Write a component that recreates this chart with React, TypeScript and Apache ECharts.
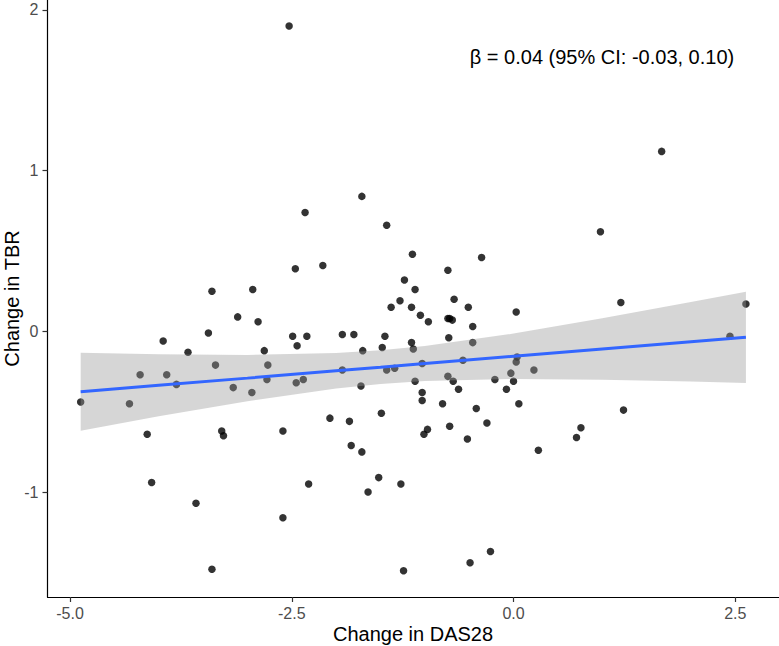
import React, { useEffect, useRef } from "react";
import * as echarts from "echarts";

// Observed data: change in DAS28 (x) vs change in TBR (y)
const dasChange = [
  -2.53, -1.71, -2.35, 1.67,
  -3.40, -2.94, -3.11, -2.88, -3.95, -3.44, -3.67, -2.81, -3.36, -2.77, -4.21, -3.91, -3.80, -3.16, -2.95, -2.78,
  -4.88, -4.33, -4.13, -3.29, -3.27, -4.08, -3.58, -3.40,
  -2.60, -2.60, -2.31, -2.07, -1.85, -1.49, -1.83, -1.71, -1.52, -1.64, -1.27, -1.24, -1.72, -1.03, -1.03, -0.80,
  -1.01, -0.97, -0.72, -0.52, -0.42, -0.30, -0.62, -0.68, -0.08, 0.06, -0.49, -0.26, -1.11, 0.00,
  0.28, 0.71, 0.76, 1.24,
  0.98, 1.21, 0.03, 2.62, 2.44, 0.04, 0.03, -0.03, 0.23,
  -1.43, -1.14, -0.36, -2.46, -2.15, -0.74, -1.23, -1.11, -1.28, -0.67, -1.38, -1.15, -0.51, -1.05, -0.96, -0.74,
  -0.72, -0.69, -0.46, -2.49, -2.33, -2.44, -1.93, -1.80, -1.45, -1.70, -1.48, -1.15, -1.13, -0.73, -0.46, -2.45,
  -2.37, -1.93, -1.43, -1.34, -1.03, -0.74, -0.57, -0.21,
];
const tbrChange = [
  1.90, 0.84, 0.74, 1.12,
  0.25, 0.26, 0.09, 0.06, -0.06, -0.01, -0.13, -0.12, -0.21, -0.21, -0.27, -0.27, -0.33, -0.35, -0.38, -0.30,
  -0.44, -0.45, -0.64, -0.62, -0.65, -0.94, -1.07, -1.48,
  -0.62, -1.16, -0.95, -0.54, -0.56, -0.51, -0.71, -0.75, -0.91, -1.00, -0.95, -1.49, -0.34, -0.38, -0.43, -0.45,
  -0.64, -0.61, -0.59, -0.67, -0.48, -0.57, -0.36, -0.31, -0.36, -0.45, -1.44, -1.37, -0.31, -0.31,
  -0.74, -0.66, -0.60, -0.49,
  0.62, 0.18, 0.12, 0.17, -0.03, -0.16, -0.19, -0.26, -0.24,
  0.66, 0.48, 0.46, 0.39, 0.41, 0.38, 0.32, 0.26, 0.19, 0.20, 0.15, 0.15, 0.15, 0.10, 0.06, 0.08,
  0.08, 0.07, 0.03, -0.03, -0.03, -0.09, -0.02, -0.02, -0.03, -0.12, -0.10, -0.07, -0.11, -0.04, -0.07, -0.32,
  -0.30, -0.24, -0.24, -0.23, -0.20, -0.28, -0.18, -0.30,
];

// Fitted line and 95% confidence band
const fitX = [-4.88, -4, -3, -2, -1.5, -1, 0, 1, 2, 2.62];
const fitY = [-0.376, -0.336, -0.291, -0.245, -0.223, -0.2, -0.155, -0.11, -0.065, -0.037];
const bandLower = [-0.619, -0.529, -0.435, -0.355, -0.328, -0.309, -0.296, -0.301, -0.312, -0.321];
const bandUpper = [-0.133, -0.143, -0.147, -0.135, -0.118, -0.091, -0.014, 0.081, 0.182, 0.247];

const xTicks = [-5, -2.5, 0, 2.5];
const yTicks = [-1, 0, 1, 2];

const annotationText = "β = 0.04 (95% CI: -0.03, 0.10)";
const xTitle = "Change in DAS28";
const yTitle = "Change in TBR";

const FONT = "'Liberation Sans', Arial, sans-serif";

export default function App() {
  const ref = useRef<HTMLDivElement>(null);

  useEffect(() => {
    document.body.style.margin = "0";
    if (!ref.current) return;
    const chart = echarts.init(ref.current, undefined, { renderer: "svg" });

    const points = dasChange.map((x, i) => [x, tbrChange[i]]);
    const fitLine = fitX.map((x, i) => [x, fitY[i]]);

    chart.setOption({
      animation: false,
      backgroundColor: "#ffffff",
      grid: { left: 47.5, right: 0, top: 0, bottom: 49, containLabel: false },
      xAxis: {
        type: "value",
        min: -5.254,
        max: 2.993,
        axisLine: { show: true, onZero: false, lineStyle: { color: "#000000", width: 1.2 } },
        axisTick: { show: true, customValues: xTicks, length: 5, lineStyle: { color: "#333333", width: 1.2 } },
        axisLabel: {
          customValues: xTicks,
          formatter: (v: number) => v.toFixed(1),
          color: "#4d4d4d",
          fontSize: 16,
          fontFamily: FONT,
          margin: 8,
        },
        splitLine: { show: false },
      },
      yAxis: {
        type: "value",
        min: -1.653,
        max: 2.062,
        axisLine: { show: true, onZero: false, lineStyle: { color: "#000000", width: 1.2 } },
        axisTick: { show: true, customValues: yTicks, length: 5, lineStyle: { color: "#333333", width: 1.2 } },
        axisLabel: {
          customValues: yTicks,
          formatter: (v: number) => String(v),
          color: "#4d4d4d",
          fontSize: 16,
          fontFamily: FONT,
          margin: 9,
        },
        splitLine: { show: false },
      },
      series: [
        {
          type: "scatter",
          data: points,
          symbol: "circle",
          symbolSize: 7.5,
          itemStyle: { color: "#000000", opacity: 0.8 },
          z: 2,
        },
        {
          type: "custom",
          data: [[0, 0]],
          z: 3,
          silent: true,
          renderItem: (params: any, api: any) => {
            const upper = fitX.map((x, i) => api.coord([x, bandUpper[i]]));
            const lower = fitX.map((x, i) => api.coord([x, bandLower[i]])).reverse();
            return {
              type: "polygon",
              shape: { points: upper.concat(lower) },
              style: { fill: "rgba(153,153,153,0.4)", stroke: "none" },
            };
          },
        },
        {
          type: "line",
          data: fitLine,
          symbol: "none",
          lineStyle: { color: "#3366FF", width: 3 },
          z: 4,
        },
      ],
      graphic: [
        {
          type: "text",
          x: 602,
          y: 57,
          style: {
            text: annotationText,
            fontSize: 20,
            fontFamily: FONT,
            fill: "#000000",
            textAlign: "center",
            textVerticalAlign: "middle",
          },
        },
        {
          type: "text",
          x: 413,
          y: 634,
          style: {
            text: xTitle,
            fontSize: 20,
            fontFamily: FONT,
            fill: "#000000",
            textAlign: "center",
            textVerticalAlign: "middle",
          },
        },
        {
          type: "text",
          x: 12,
          y: 298.5,
          rotation: Math.PI / 2,
          style: {
            text: yTitle,
            fontSize: 20,
            fontFamily: FONT,
            fill: "#000000",
            textAlign: "center",
            textVerticalAlign: "middle",
          },
        },
      ],
    });

    return () => chart.dispose();
  }, []);

  return <div ref={ref} style={{ width: 779, height: 646 }} />;
}
